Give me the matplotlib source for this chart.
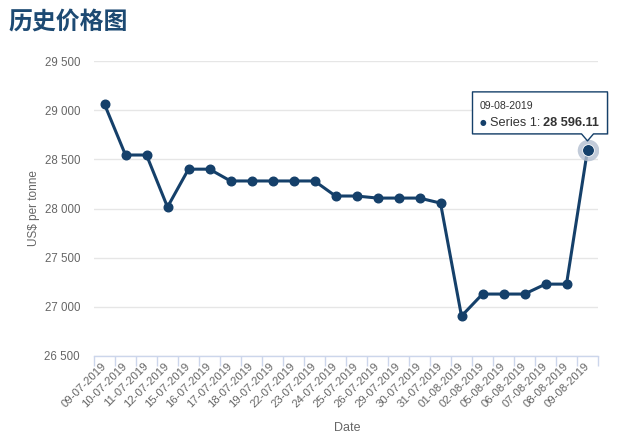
import matplotlib
matplotlib.use("Agg")
import matplotlib.pyplot as plt
from matplotlib.patches import Polygon
from matplotlib.transforms import IdentityTransform
from matplotlib.ticker import FuncFormatter, FixedLocator

dates = ["09-07-2019", "10-07-2019", "11-07-2019", "12-07-2019", "15-07-2019",
         "16-07-2019", "17-07-2019", "18-07-2019", "19-07-2019", "22-07-2019",
         "23-07-2019", "24-07-2019", "25-07-2019", "26-07-2019", "29-07-2019",
         "30-07-2019", "31-07-2019", "01-08-2019", "02-08-2019", "05-08-2019",
         "06-08-2019", "07-08-2019", "08-08-2019", "09-08-2019"]
prices = [29060, 28544, 28544, 28015, 28400, 28400, 28280, 28280, 28280, 28280,
          28280, 28127, 28127, 28106, 28106, 28106, 28055, 26906, 27130, 27130,
          27130, 27231, 27231, 28596.11]
y_ticks = [26500, 27000, 27500, 28000, 28500, 29000, 29500]

title = "历史价格图"
y_label = "US$ per tonne"
x_label = "Date"
series_name = "Series 1"

LINE = "#15406a"
GRID = "#e6e6e6"
AXIS = "#ccd6eb"
TXT = "#666666"

plt.rcParams['font.family'] = ['Liberation Sans', 'DejaVu Sans']

fig = plt.figure(figsize=(6.3, 4.45), dpi=100)
ax = fig.add_axes([94/630, 1-356/445, 504/630, 295/445])

x = list(range(len(dates)))
ax.plot(x, prices, color=LINE, lw=2.2, marker='o', ms=6.2, zorder=3,
        solid_joinstyle='round')
# hover halo + highlighted point
ax.plot([x[-1]], [prices[-1]], 'o', ms=15.5, color='#b3bfd0', alpha=0.8, mec='none', zorder=4)
ax.plot([x[-1]], [prices[-1]], 'o', ms=8.5, color=LINE, mec='white', mew=0.6, zorder=5)

ax.set_xlim(-0.5, len(dates)-0.5)
ax.set_ylim(y_ticks[0], y_ticks[-1])
ax.set_yticks(y_ticks)
ax.yaxis.set_major_formatter(FuncFormatter(lambda v, p: f"{int(v):,}".replace(",", " ")))
ax.grid(axis='y', color=GRID, lw=1)
ax.set_axisbelow(True)
for s in ['top', 'right', 'left']:
    ax.spines[s].set_visible(False)
ax.spines['bottom'].set_color(AXIS)
ax.spines['bottom'].set_linewidth(1)
ax.tick_params(axis='y', length=0, pad=10, labelsize=8.3, labelcolor=TXT)

ax.xaxis.set_major_locator(FixedLocator([i - 0.5 for i in range(len(dates)+1)]))
ax.xaxis.set_minor_locator(FixedLocator(x))
ax.tick_params(axis='x', which='major', length=7.2, color=AXIS, width=1, labelbottom=False)
ax.set_xticks(x, minor=True)
ax.set_xticklabels(dates, minor=True)
ax.tick_params(axis='x', which='minor', length=0, pad=6, labelsize=8.2, labelcolor=TXT)
for lab in ax.get_xticklabels(minor=True):
    lab.set_rotation(45)
    lab.set_ha('right')
    lab.set_va('center')
    lab.set_rotation_mode('anchor')

fig.text(34/630, 1-208/445, y_label, rotation=90, ha='center', va='center',
         fontsize=8.5, color=TXT)
fig.text(347/630, 1-428/445, x_label, ha='center', va='center',
         fontsize=9, color=TXT)
fig.text(8/630, 1-22/445, title, ha='left', va='center', fontsize=17.2,
         fontweight='bold', color='#1d4a73',
         family=['Noto Sans CJK SC', 'DejaVu Sans'])

# tooltip
fig.canvas.draw()
px, py = ax.transData.transform((x[-1], prices[-1]))
L, R = px - 115, px + 20
B, T = py + 16, py + 58
apex = py + 9
poly = Polygon([(L, B), (px - 6, B), (px, apex), (px + 6, B), (R, B), (R, T), (L, T)],
               closed=True, facecolor='white', edgecolor=LINE, lw=1,
               transform=IdentityTransform(), zorder=10, joinstyle='round')
shadow = Polygon([(L+1.5, B-1.5), (R+1.5, B-1.5), (R+1.5, T-1.5), (L+1.5, T-1.5)],
                 closed=True, facecolor='#000000', alpha=0.08, edgecolor='none',
                 transform=IdentityTransform(), zorder=9)
fig.add_artist(shadow)
fig.add_artist(poly)
W, H = fig.bbox.width, fig.bbox.height
fig.text((L + 7)/W, (T - 14)/H, dates[-1], ha='left', va='center',
         fontsize=7.6, color='#333333', zorder=11)
bul = fig.text((L + 7)/W, (T - 31)/H, "●", ha='left', va='center',
               fontsize=5.5, color=LINE, family=['DejaVu Sans'], zorder=11)
t1 = fig.text((L + 17)/W, (T - 31)/H, f"{series_name}: ", ha='left', va='center',
              fontsize=9.2, color='#333333', zorder=11)
val = f"{prices[-1]:,.2f}".replace(",", " ")
fig.add_artist(matplotlib.text.Annotation(val, xy=(1, 0.5), xycoords=t1,
               ha='left', va='center', fontsize=9.2, fontweight='bold',
               color='#333333', zorder=11))

fig.savefig("out.png", dpi=100)
